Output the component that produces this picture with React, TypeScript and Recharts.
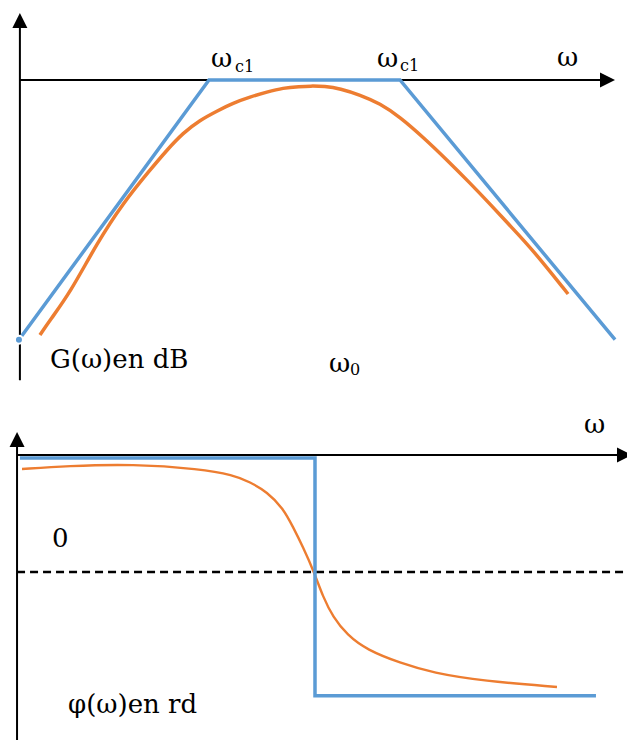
import React from 'react';
import { LineChart, Line, XAxis, YAxis, ReferenceLine, ReferenceDot } from 'recharts';

// x values: log10(ω) in decades; gain in dB; phase in rad
const gainAsymptote = [
  { w: 1.005, g: -19.9 },
  { w: 2.0, g: 0 },
  { w: 3.0, g: 0 },
  { w: 4.126, g: -19.9 },
];

const gainReal = [
  { w: 1.115, g: -19.54 },
  { w: 1.168, g: -18.39 },
  { w: 1.272, g: -16.32 },
  { w: 1.414, g: -12.49 },
  { w: 1.55, g: -9.43 },
  { w: 1.691, g: -6.9 },
  { w: 1.78, g: -5.36 },
  { w: 1.864, g: -4.06 },
  { w: 1.953, g: -3.07 },
  { w: 2.042, g: -2.38 },
  { w: 2.126, g: -1.76 },
  { w: 2.215, g: -1.3 },
  { w: 2.304, g: -0.92 },
  { w: 2.387, g: -0.61 },
  { w: 2.476, g: -0.5 },
  { w: 2.529, g: -0.46 },
  { w: 2.606, g: -0.48 },
  { w: 2.686, g: -0.65 },
  { w: 2.791, g: -1.15 },
  { w: 2.895, g: -1.8 },
  { w: 3.0, g: -2.84 },
  { w: 3.12, g: -4.37 },
  { w: 3.246, g: -6.13 },
  { w: 3.366, g: -7.89 },
  { w: 3.471, g: -9.5 },
  { w: 3.585, g: -11.3 },
  { w: 3.696, g: -13.03 },
  { w: 3.88, g: -16.4 },
];

const phaseAsymptote = [
  { w: 1.01, p: 1.5 },
  { w: 2.555, p: 1.5 },
  { w: 2.555, p: -1.63 },
  { w: 4.026, p: -1.63 },
];

const phaseReal = [
  { w: 1.021, p: 1.355 },
  { w: 1.257, p: 1.395 },
  { w: 1.602, p: 1.421 },
  { w: 1.953, p: 1.355 },
  { w: 2.126, p: 1.276 },
  { w: 2.215, p: 1.184 },
  { w: 2.304, p: 1.053 },
  { w: 2.387, p: 0.842 },
  { w: 2.44, p: 0.592 },
  { w: 2.492, p: 0.329 },
  { w: 2.55, p: 0 },
  { w: 2.597, p: -0.329 },
  { w: 2.649, p: -0.592 },
  { w: 2.723, p: -0.829 },
  { w: 2.827, p: -1.026 },
  { w: 3.0, p: -1.197 },
  { w: 3.173, p: -1.329 },
  { w: 3.435, p: -1.434 },
  { w: 3.822, p: -1.513 },
];

const xDomain: [number, number] = [0.9058, 4.1885];
const gainDomain: [number, number] = [-24.52, 6.13];
const phaseDomain: [number, number] = [-2.211, 2.263];

const BLUE = '#5B9BD5';
const ORANGE = '#ED7D31';
const FONT = '"DejaVu Serif", serif';

const ArrowUp = (props: any) => {
  const { cx, cy } = props;
  return <polygon points={`${cx - 7.5},${cy} ${cx + 7.5},${cy} ${cx},${cy - 15}`} fill="#000" />;
};
const ArrowRight = (props: any) => {
  const { cx, cy } = props;
  return <polygon points={`${cx},${cy - 7.5} ${cx},${cy + 7.5} ${cx + 15},${cy}`} fill="#000" />;
};

export default function App() {
  return (
    <div style={{ position: 'absolute', left: 0, top: 0, width: 627, height: 740, background: '#fff', overflow: 'hidden' }}>
      <div style={{ position: 'absolute', left: 0, top: 0 }}>
        <LineChart width={627} height={400} margin={{ top: 0, right: 0, bottom: 0, left: 0 }}>
          <XAxis type="number" dataKey="w" domain={xDomain} allowDataOverflow hide />
          <YAxis type="number" domain={gainDomain} allowDataOverflow hide />
          <ReferenceLine ifOverflow="visible" segment={[{ x: 1.01, y: -23 }, { x: 1.01, y: 4.2 }]} stroke="#000" strokeWidth={2} />
          <ReferenceDot ifOverflow="visible" x={1.01} y={3.98} r={1} shape={ArrowUp} />
          <ReferenceLine ifOverflow="visible" segment={[{ x: 1.01, y: 0 }, { x: 4.06, y: 0 }]} stroke="#000" strokeWidth={2} />
          <ReferenceDot ifOverflow="visible" x={4.047} y={0} r={1} shape={ArrowRight} />
          <Line data={gainReal} dataKey="g" type="basis" stroke={ORANGE} strokeWidth={3.5} dot={false} isAnimationActive={false} />
          <Line data={gainAsymptote} dataKey="g" type="linear" stroke={BLUE} strokeWidth={3.5} dot={false} isAnimationActive={false} />
        </LineChart>
      </div>
      <div style={{ position: 'absolute', left: 0, top: 400 }}>
        <LineChart width={627} height={340} margin={{ top: 0, right: 0, bottom: 0, left: 0 }}>
          <XAxis type="number" dataKey="w" domain={xDomain} allowDataOverflow hide />
          <YAxis type="number" domain={phaseDomain} allowDataOverflow hide />
          <ReferenceLine ifOverflow="visible" segment={[{ x: 0.995, y: -2.211 }, { x: 0.995, y: 1.7 }]} stroke="#000" strokeWidth={2} />
          <ReferenceDot ifOverflow="visible" x={0.995} y={1.645} r={1} shape={ArrowUp} />
          <ReferenceLine ifOverflow="visible" segment={[{ x: 0.995, y: 1.539 }, { x: 4.15, y: 1.539 }]} stroke="#000" strokeWidth={2} />
          <ReferenceDot ifOverflow="visible" x={4.136} y={1.539} r={1} shape={ArrowRight} />
          <ReferenceLine ifOverflow="visible" segment={[{ x: 0.995, y: 0 }, { x: 4.1885, y: 0 }]} stroke="#000" strokeWidth={2.4} strokeDasharray="8 5" />
          <Line data={phaseReal} dataKey="p" type="basis" stroke={ORANGE} strokeWidth={2.4} dot={false} isAnimationActive={false} />
          <Line data={phaseAsymptote} dataKey="p" type="linear" stroke={BLUE} strokeWidth={3.5} dot={false} isAnimationActive={false} />
        </LineChart>
      </div>
      <svg width={627} height={740} style={{ position: 'absolute', left: 0, top: 0, pointerEvents: 'none' }}>
        <g fontFamily={FONT} fill="#000">
          <text x={211} y={67} fontSize={26}>ω</text>
          <text x={235} y={72} fontSize={16}>c1</text>
          <text x={377} y={67} fontSize={26}>ω</text>
          <text x={400} y={71} fontSize={16}>c1</text>
          <text x={557} y={66} fontSize={26}>ω</text>
          <text x={50} y={368} fontSize={26}>G(ω)en dB</text>
          <text x={329} y={372} fontSize={26}>ω</text>
          <text x={350} y={375} fontSize={16}>0</text>
          <text x={52} y={547} fontSize={26}>0</text>
          <text x={68} y={713} fontSize={26}>φ(ω)en rd</text>
          <text x={584} y={433} fontSize={26}>ω</text>
        </g>
      </svg>
    </div>
  );
}
